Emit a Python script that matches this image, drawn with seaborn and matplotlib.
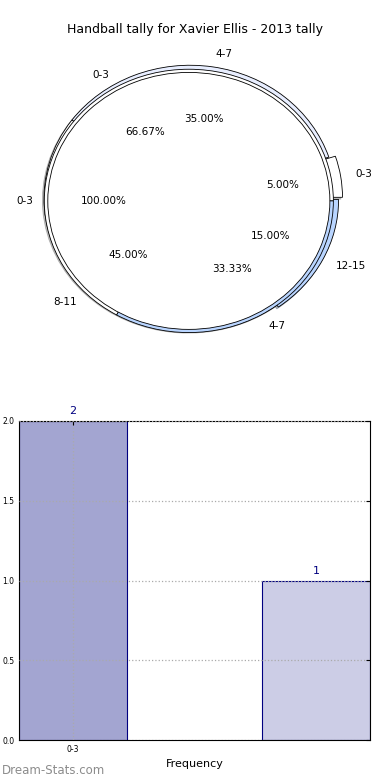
import numpy as np
import pandas as pd
import seaborn as sns
import matplotlib.pyplot as plt

# pie layers
ring1_labels = ["0-3", "4-7", "8-11", "12-15"]
ring1_values = [5, 35, 45, 15]
ring2_labels = ["0-3", "4-7"]
ring2_values = [66.67, 33.33]
ring3_labels = ["0-3"]
ring3_values = [100]

# bar chart
bar_cats = ["0-3", "4-7"]
bar_counts = [2, 1]

sns.set_style("white")
plt.rcParams['font.family'] = ['DejaVu Sans']
plt.rcParams['text.color'] = 'black'
plt.rcParams['axes.labelcolor'] = 'black'
plt.rcParams['xtick.color'] = 'black'
plt.rcParams['ytick.color'] = 'black'

fig = plt.figure(figsize=(3.9, 7.8), dpi=100)

# ---- stacked pies ----
ax1 = fig.add_axes([7.5 / 390, 1 - (32 + 332.5) / 780, 365 / 390, 332.5 / 780])
wp = {"edgecolor": "black", "linewidth": 0.6}
shd = {"ox": -0.008, "oy": -0.01, "shade": 0.5}
inner = (-0.008, -0.02)
ax1.pie(ring1_values, labels=ring1_labels, colors=["white", "#e8eeff", "#ffffff", "#b9d5ff"],
        explode=[0.045, 0, 0, 0.02], autopct="%.2f%%", startangle=0, radius=1.0,
        shadow=shd, wedgeprops=wp, textprops={"fontsize": 7.5})
ax1.pie(ring2_values, labels=ring2_labels, colors=["white", "#b9d5ff"],
        autopct="%.2f%%", startangle=0, radius=0.99, center=inner,
        wedgeprops=wp, textprops={"fontsize": 7.5})
ax1.pie(ring3_values, labels=ring3_labels, colors=["white"],
        autopct="%.2f%%", startangle=0, radius=0.966, center=inner,
        shadow=shd, wedgeprops=wp, textprops={"fontsize": 7.5})
ax1.set_aspect("auto")
ax1.set_xlim(-1.25, 1.25)
ax1.set_ylim(-1.25, 1.25)
fig.text(195 / 390, 1 - 30 / 780, "Handball tally for Xavier Ellis - 2013 tally",
         ha="center", va="center", fontsize=9)

# ---- frequency bars ----
ax2 = fig.add_axes([19 / 390, 40 / 780, 351 / 390, 319 / 780])
df = pd.DataFrame({"cat": bar_cats, "count": bar_counts})
sns.barplot(data=df, x="cat", y="count", hue="cat", palette=["#a3a5d1", "#cccde6"],
            saturation=1, width=0.445, edgecolor="#000080", linewidth=0.8,
            legend=False, ax=ax2)
ax2.set_xlim(-0.2225, 1.2225)
ax2.set_ylim(0, 2.0)
ax2.set_yticks([0, 0.5, 1.0, 1.5, 2.0])
ax2.set_yticklabels(["0.0", "0.5", "1.0", "1.5", "2.0"])
ax2.set_xticks([0])
ax2.set_xticklabels(["0-3"])
ax2.tick_params(labelsize=5.5, direction="in", length=3, right=True, top=True)
ax2.set_axisbelow(False)
ax2.grid(True, linestyle=":", color="#aaaaaa", linewidth=0.9)
for s in ax2.spines.values():
    s.set_color("black")
    s.set_linewidth(0.8)
for i, v in enumerate(bar_counts):
    ax2.text(i, v + 0.03, str(v), ha="center", va="bottom", color="#000080", fontsize=8)
ax2.set_xlabel("Frequency", fontsize=8, labelpad=4)
ax2.set_ylabel("")

fig.text(2 / 390, 1 - 771 / 780, "Dream-Stats.com", ha="left", va="center",
         fontsize=8.5, color="#8c8c8c")

fig.savefig("out.png", dpi=100)
